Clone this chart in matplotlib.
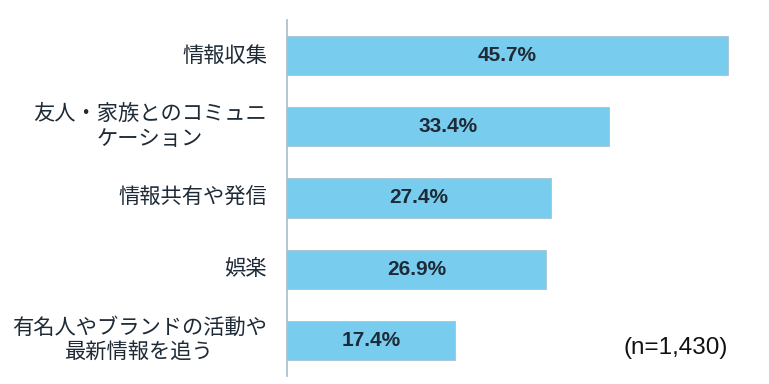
import matplotlib.pyplot as plt
import matplotlib.transforms as mtransforms

plt.rcParams['font.family'] = ['Noto Sans CJK JP', 'DejaVu Sans']

# Data
categories = [
    '情報収集',
    '友人・家族とのコミュニ\nケーション',
    '情報共有や発信',
    '娯楽',
    '有名人やブランドの活動や\n最新情報を追う',
]
values = [45.7, 33.4, 27.4, 26.9, 17.4]
sample_note = '(n=1,430)'

BAR_COLOR = '#78CDEF'
EDGE_COLOR = '#A9C3D3'
TEXT_COLOR = '#1E2A36'
AXIS_COLOR = '#A6BCCB'

fig = plt.figure(figsize=(7.69, 3.84), dpi=100)
ax = fig.add_axes([0.3732, 0.021, 0.6268, 0.927])

pos = list(range(len(categories)))
bars = ax.barh(pos, values, height=0.55, color=BAR_COLOR,
               edgecolor=EDGE_COLOR, linewidth=0.6)

ax.set_xlim(0, 50)
ax.set_ylim(len(categories) - 0.5, -0.5)

# Value labels centered in bars
for bar, v in zip(bars, values):
    ax.text(bar.get_width() / 2, bar.get_y() + bar.get_height() / 2,
            f'{v:.1f}%', ha='center', va='center', fontsize=15,
            fontweight='bold', color=TEXT_COLOR, family='Liberation Sans')

# Category labels, right aligned left of axis, multiline centered
trans = mtransforms.offset_copy(ax.get_yaxis_transform(), fig=fig, x=-20, y=0, units='dots')
for p, lab in zip(pos, categories):
    ax.text(0, p, lab, transform=trans, ha='right', va='center',
            multialignment='center', fontsize=15.3, color=TEXT_COLOR,
            linespacing=1.2)

# Sample size note
fig.text(0.947, 0.094, sample_note, ha='right', va='center', fontsize=17.5,
         color='#111111', family='Liberation Sans')

for s in ['top', 'right', 'bottom']:
    ax.spines[s].set_visible(False)
ax.spines['left'].set_color(AXIS_COLOR)
ax.spines['left'].set_linewidth(1.2)
ax.set_xticks([])
ax.set_yticks([])

fig.savefig('out.png', dpi=100)
